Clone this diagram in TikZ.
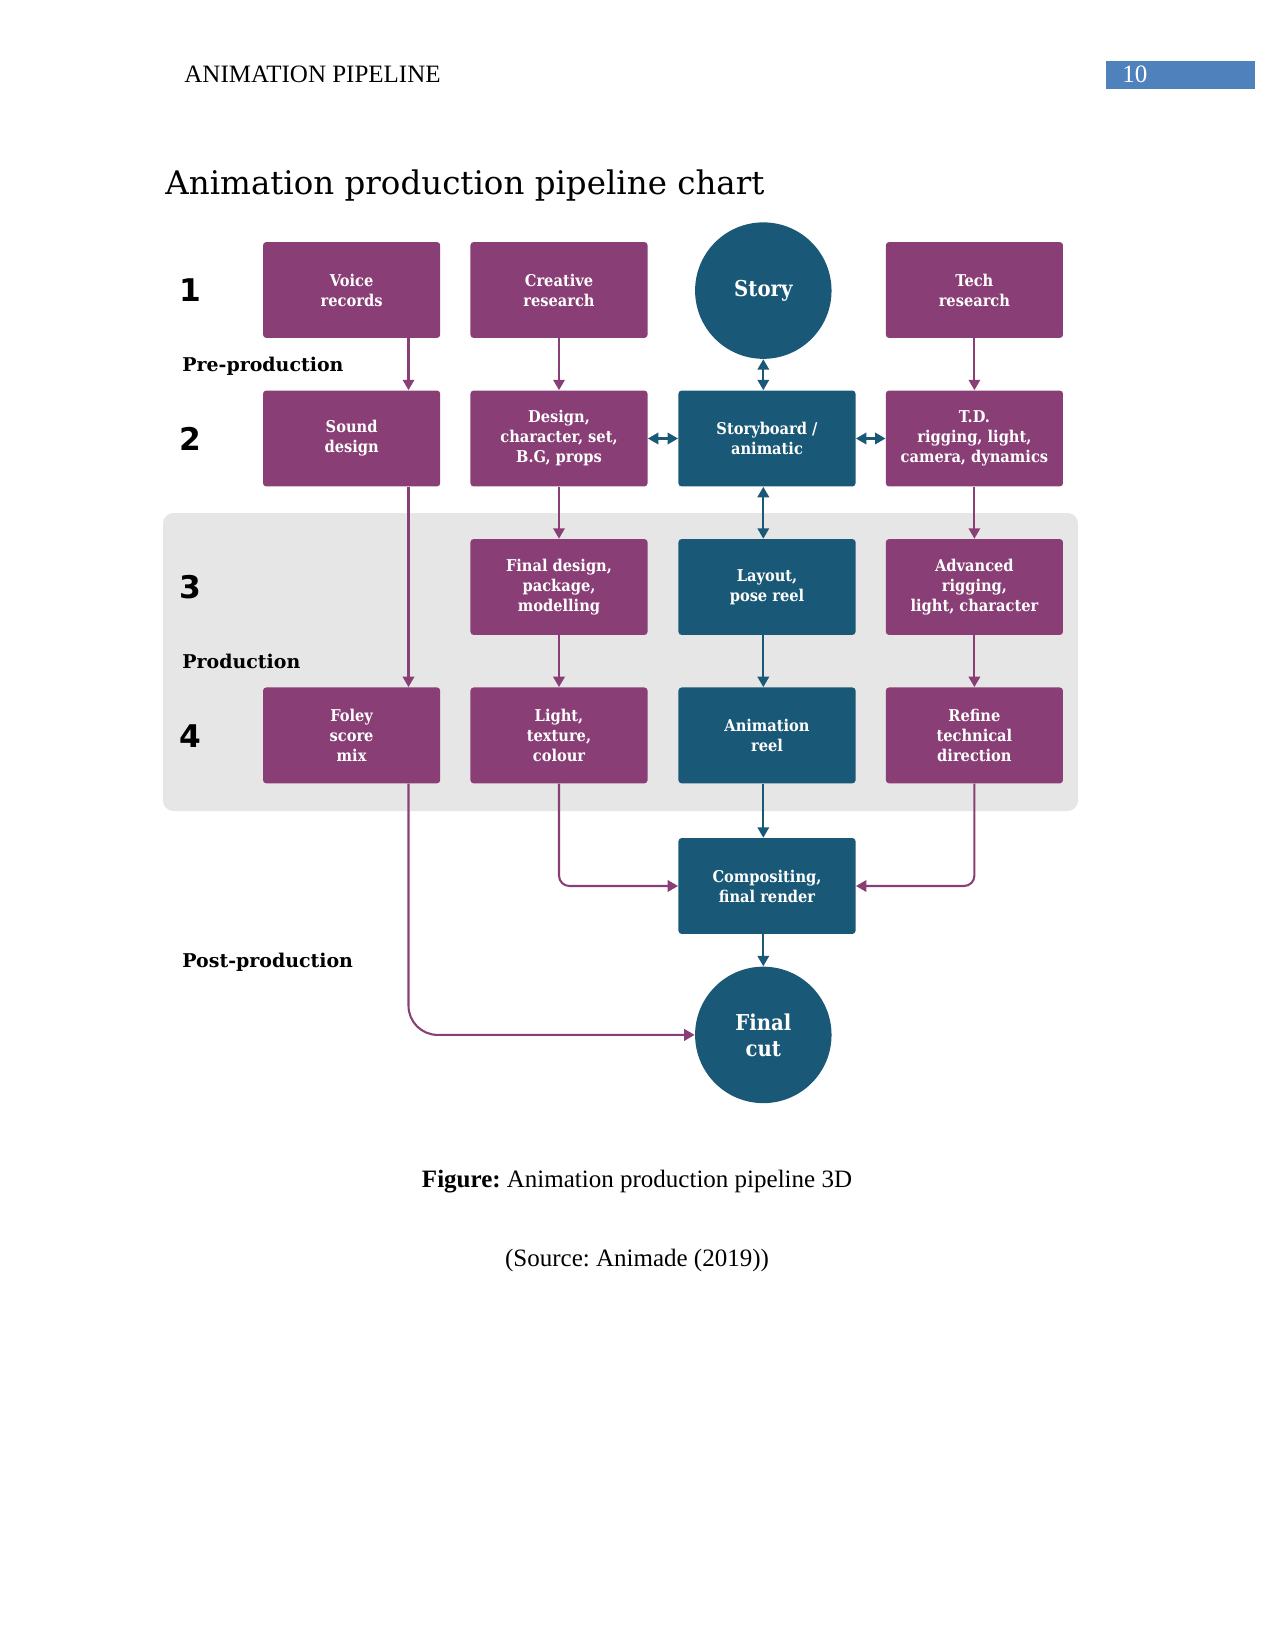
\documentclass[tikz,border=0pt]{standalone}
\usepackage{fontspec}
\setmainfont{Liberation Serif}
\newfontfamily\slab{DejaVu Serif Condensed}
\newfontfamily\slabw{DejaVu Serif}
\newfontfamily\heavy{DejaVu Sans}
\usetikzlibrary{arrows.meta}
\definecolor{plum}{HTML}{893E75}
\definecolor{teal2}{HTML}{1A5877}
\definecolor{panel}{HTML}{E6E6E6}
\definecolor{pgblue}{HTML}{4F81BD}
\begin{document}
\frenchspacing
\begin{tikzpicture}[x=0.48pt,y=-0.48pt,
  box/.style={rectangle, rounded corners=1.5pt, minimum width=85pt, minimum height=46pt, inner sep=0pt, align=center, text=white, font=\slab\bfseries\fontsize{7.8}{9.6}\selectfont},
  pbox/.style={box, fill=plum},
  tbox/.style={box, fill=teal2},
  circ/.style={circle, fill=teal2, minimum size=65.5pt, inner sep=0pt, align=center, text=white, font=\slab\bfseries\fontsize{10.5}{12.5}\selectfont},
  tip/.tip={Triangle[width=5.5pt,length=5pt]},
  parr/.style={draw=plum, line width=1pt, -tip},
  tarr/.style={draw=teal2, line width=1pt, -tip},
  darr/.style={draw=teal2, line width=1pt, tip-tip},
  side/.style={anchor=west, inner sep=0pt, font=\slabw\bfseries\fontsize{9.1}{11}\selectfont},
  num/.style={inner sep=0pt, font=\heavy\bfseries\fontsize{15}{15}\selectfont}
]
\useasboundingbox (0,0) rectangle (1275,1651);

% header
\node[anchor=base west, inner sep=0pt, font=\fontsize{12}{14}\selectfont] (hdr) at (184,83) {ANIMATION PIPELINE};
\node[fill=pgblue, minimum width=71.8pt, minimum height=13.2pt, inner sep=0pt, anchor=north west] (pg) at (1105.4,61) {};
\node[anchor=base west, inner sep=0pt, text=white, font=\fontsize{12}{14}\selectfont] (pgn) at (1122,83) {10};

% title
\node[anchor=west, inner sep=0pt, font=\slabw\fontsize{15.6}{18}\selectfont] (title) at (165,186) {Animation production pipeline chart};

% production panel
\fill[panel, rounded corners=5pt] (163,513) rectangle (1078,811);

% row 1
\node[pbox] (vr) at (351.6,290) {Voice\\records};
\node[pbox] (cr) at (559,290) {Creative\\research};
\node[circ] (story) at (763.3,290.6) {Story};
\node[pbox] (tr) at (974.4,290) {Tech\\research};
% row 2
\node[pbox] (sd) at (351.6,438.5) {Sound\\design};
\node[pbox] (des) at (559,438.5) {Design,\\character, set,\\B.G, props};
\node[tbox] (sb) at (767,438.5) {Storyboard /\\animatic};
\node[pbox] (td) at (974.4,438.5) {T.D.\\rigging, light,\\camera, dynamics};
% row 3
\node[pbox] (fd) at (559,587) {Final design,\\package,\\modelling};
\node[tbox] (lay) at (767,587) {Layout,\\pose reel};
\node[pbox] (adv) at (974.4,587) {Advanced\\rigging,\\light, character};
% row 4
\node[pbox] (fol) at (351.6,735.4) {Foley\\score\\mix};
\node[pbox] (lt) at (559,735.4) {Light,\\texture,\\colour};
\node[tbox] (ar) at (767,735.4) {Animation\\reel};
\node[pbox] (ref) at (974.4,735.4) {Refine\\technical\\direction};
% post
\node[tbox] (comp) at (767,886) {Compositing,\\final render};
\node[circ] (fc) at (763.3,1034.9) {Final\\cut};

% side labels
\node[num] (n1) at (190.6,290.6) {1};
\node[num] (n2) at (190.6,439) {2};
\node[num] (n3) at (190.6,587.5) {3};
\node[num] (n4) at (190.6,736) {4};
\node[side] (pre) at (182,366) {Pre-production};
\node[side] (prod) at (182,661) {Production};
\node[side] (post) at (182,962) {Post-production};

% connectors
\coordinate (ax) at (408.5,0);
\draw[parr] (vr.south -| ax) -- (sd.north -| ax);
\draw[parr] (sd.south -| ax) -- (fol.north -| ax);
\draw[parr, rounded corners=14pt] (fol.south -| ax) |- (fc.west);
\draw[parr] (cr.south) -- (des.north);
\draw[parr] (des.south) -- (fd.north);
\draw[parr] (fd.south) -- (lt.north);
\draw[parr, rounded corners=5pt] (lt.south) |- (comp.west);
\draw[parr] (tr.south) -- (td.north);
\draw[parr] (td.south) -- (adv.north);
\draw[parr] (adv.south) -- (ref.north);
\draw[parr, rounded corners=5pt] (ref.south) |- (comp.east);
\draw[darr] (story.south) -- (sb.north -| story.south);
\draw[darr] (des.east) -- (sb.west);
\draw[darr] (sb.east) -- (td.west);
\draw[darr] (sb.south -| story.south) -- (lay.north -| story.south);
\draw[tarr] (lay.south -| story.south) -- (ar.north -| story.south);
\draw[tarr] (ar.south -| story.south) -- (comp.north -| story.south);
\draw[tarr] (comp.south -| story.south) -- (fc.north);

% caption
\node[anchor=base, inner sep=0pt, font=\fontsize{12}{14}\selectfont] (cap) at (637,1187) {\textbf{Figure:} Animation production pipeline 3D};
\node[anchor=base, inner sep=0pt, font=\fontsize{12}{14}\selectfont] (src) at (637,1266) {(Source: Animade (2019))};
\end{tikzpicture}
\end{document}
